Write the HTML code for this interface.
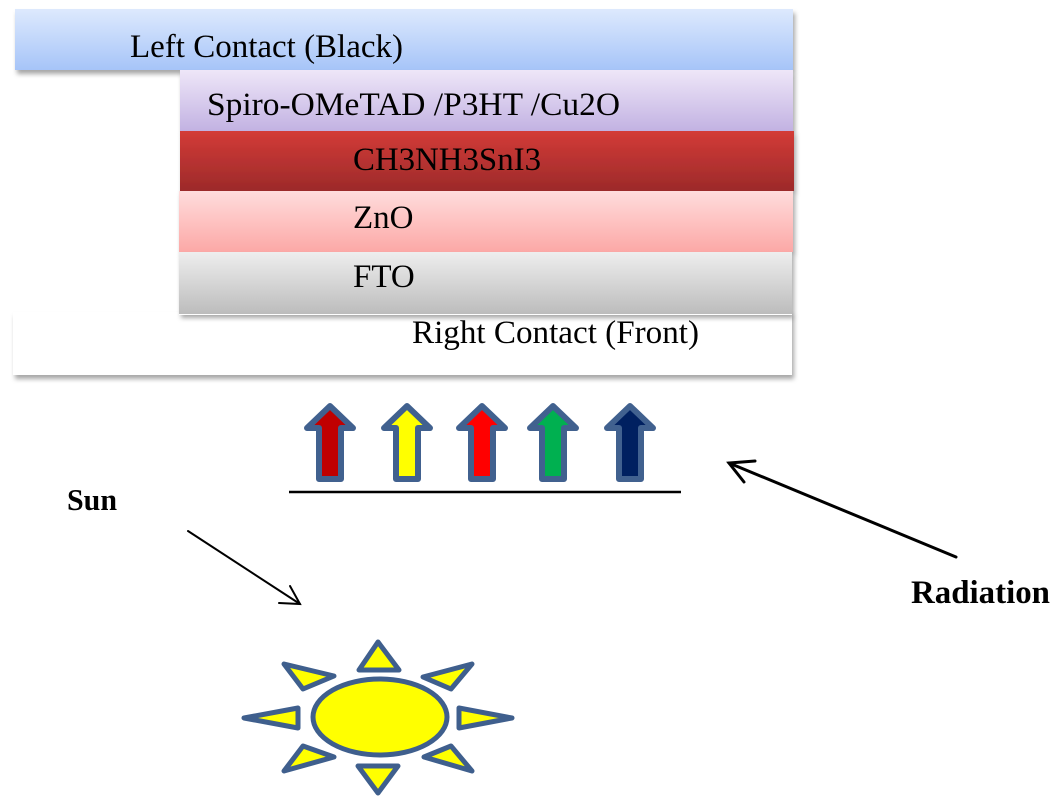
<!DOCTYPE html>
<html>
<head>
<meta charset="utf-8">
<style>
  html, body { margin: 0; padding: 0; background: #ffffff; }
  body { width: 1058px; height: 805px; overflow: hidden; font-family: "Liberation Serif", serif; }
  svg { display: block; }
</style>
</head>
<body>
<svg width="1058" height="805" viewBox="0 0 1058 805" xmlns="http://www.w3.org/2000/svg">
  <defs>
    <filter id="sh" x="-5%" y="-20%" width="112%" height="150%">
      <feDropShadow dx="2" dy="4" stdDeviation="2.5" flood-color="#000" flood-opacity="0.35"/>
    </filter>
    <linearGradient id="gBlue" x1="0" y1="0" x2="0" y2="1">
      <stop offset="0" stop-color="#dde9fd"/>
      <stop offset="1" stop-color="#a6c4f8"/>
    </linearGradient>
    <linearGradient id="gLav" x1="0" y1="0" x2="0" y2="1">
      <stop offset="0" stop-color="#eee6f8"/>
      <stop offset="1" stop-color="#c2b2e2"/>
    </linearGradient>
    <linearGradient id="gRed" x1="0" y1="0" x2="0" y2="1">
      <stop offset="0" stop-color="#d33b37"/>
      <stop offset="1" stop-color="#9c2a2a"/>
    </linearGradient>
    <linearGradient id="gPink" x1="0" y1="0" x2="0" y2="1">
      <stop offset="0" stop-color="#ffdcdc"/>
      <stop offset="1" stop-color="#fca8a6"/>
    </linearGradient>
    <linearGradient id="gGray" x1="0" y1="0" x2="0" y2="1">
      <stop offset="0" stop-color="#eeeeee"/>
      <stop offset="1" stop-color="#bcbcbc"/>
    </linearGradient>
  </defs>

  <!-- Right contact (drawn first, under FTO) -->
  <rect x="13" y="312" width="779" height="63" fill="#ffffff" filter="url(#sh)"/>
  <!-- Left contact -->
  <rect x="15" y="9" width="778" height="61" fill="url(#gBlue)" filter="url(#sh)"/>
  <!-- Layers -->
  <rect x="180" y="70" width="613" height="61" fill="url(#gLav)" filter="url(#sh)"/>
  <rect x="180" y="131" width="614" height="60" fill="url(#gRed)" filter="url(#sh)"/>
  <rect x="179" y="191" width="614" height="61" fill="url(#gPink)" filter="url(#sh)"/>
  <rect x="179" y="252" width="613" height="62" fill="url(#gGray)" filter="url(#sh)"/>
  <line x1="179" y1="314.5" x2="792" y2="314.5" stroke="#ffffff" stroke-width="1"/>

  <!-- Layer labels -->
  <g font-family="Liberation Serif, serif" fill="#000">
    <text x="130" y="57" style="font-family:'Liberation Serif',serif;font-size:33px" textLength="273" lengthAdjust="spacingAndGlyphs">Left Contact (Black)</text>
    <text x="207" y="115" style="font-family:'Liberation Serif',serif;font-size:33px" textLength="413" lengthAdjust="spacingAndGlyphs">Spiro-OMeTAD /P3HT /Cu2O</text>
    <text x="353" y="170" style="font-family:'Liberation Serif',serif;font-size:33px" textLength="188" lengthAdjust="spacingAndGlyphs">CH3NH3SnI3</text>
    <text x="353" y="228" style="font-family:'Liberation Serif',serif;font-size:33px">ZnO</text>
    <text x="353" y="287" style="font-family:'Liberation Serif',serif;font-size:33px">FTO</text>
    <text x="412" y="343" style="font-family:'Liberation Serif',serif;font-size:33px" textLength="287" lengthAdjust="spacingAndGlyphs">Right Contact (Front)</text>
  </g>

  <!-- Up arrows -->
  <g stroke="#41618f" stroke-width="6" stroke-linejoin="round">
    <polygon points="330,406 353,428 341,428 341,479 319,479 319,428 307,428" fill="#c00000"/>
    <polygon points="407,406 430,428 418,428 418,479 396,479 396,428 384,428" fill="#ffff00"/>
    <polygon points="482,406 505,428 493,428 493,479 471,479 471,428 459,428" fill="#ff0000"/>
    <polygon points="553,406 576,428 564,428 564,479 542,479 542,428 530,428" fill="#00b050"/>
    <polygon points="630,406 653,428 641,428 641,479 619,479 619,428 607,428" fill="#002060"/>
  </g>
  <line x1="289" y1="492" x2="681" y2="492" stroke="#000" stroke-width="2.5"/>

  <!-- Sun label and arrow -->
  <text x="67" y="510" style="font-family:'Liberation Serif',serif;font-size:31px;font-weight:bold" textLength="50" lengthAdjust="spacingAndGlyphs">Sun</text>
  <g stroke="#000" stroke-width="2" fill="none" stroke-linecap="round">
    <line x1="188" y1="531" x2="300" y2="604"/>
    <polyline points="279,603 300,604 290,586"/>
  </g>

  <!-- Radiation label and arrow -->
  <text x="911" y="603" style="font-family:'Liberation Serif',serif;font-size:33px;font-weight:bold" textLength="139" lengthAdjust="spacingAndGlyphs">Radiation</text>
  <g stroke="#000" stroke-width="3" fill="none" stroke-linecap="round">
    <line x1="956" y1="557" x2="729" y2="463"/>
    <polyline points="755,461 729,463 744,482"/>
  </g>

  <!-- Sun shape -->
  <g stroke="#3f5f8d" stroke-width="5" stroke-linejoin="round" fill="#ffff00">
    <ellipse cx="380" cy="717" rx="67" ry="38"/>
    <polygon points="378,642 399,670 359,670"/>
    <polygon points="378,793 398,766 358,766"/>
    <polygon points="244,718 298,708 298,728"/>
    <polygon points="512,718 459,708 459,728"/>
    <polygon points="284,664 334,676 303,689"/>
    <polygon points="472,664 423,677 451,689"/>
    <polygon points="284,771 303,746 334,757"/>
    <polygon points="472,771 451,746 424,757"/>
  </g>
</svg>
</body>
</html>
